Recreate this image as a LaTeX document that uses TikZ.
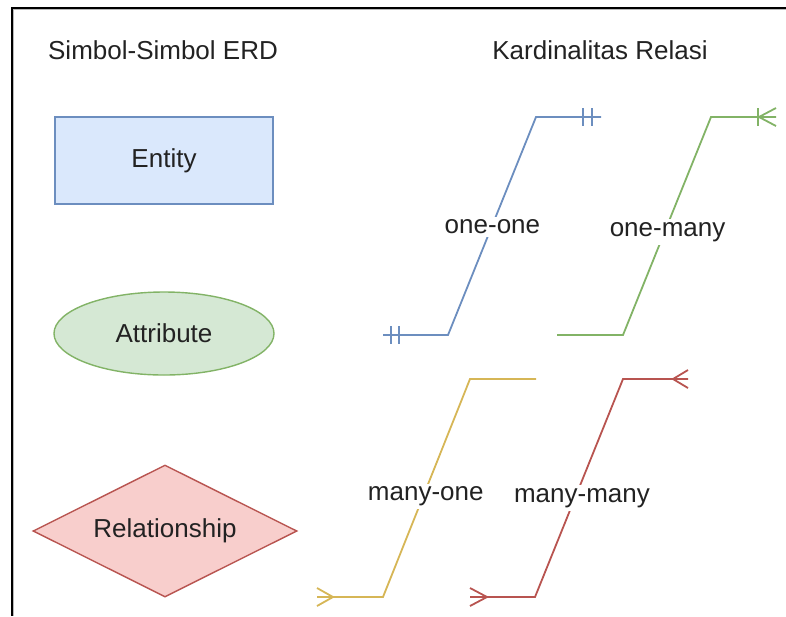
\documentclass[tikz,border=0pt]{standalone}
\usepackage{fontspec}
\setmainfont{Liberation Sans}
\usetikzlibrary{shapes.geometric}

\definecolor{erdblue}{HTML}{6C8EBF}
\definecolor{erdbluefill}{HTML}{DAE8FC}
\definecolor{erdgreen}{HTML}{82B366}
\definecolor{erdgreenfill}{HTML}{D5E8D4}
\definecolor{erdyellow}{HTML}{D6B656}
\definecolor{erdred}{HTML}{B85450}
\definecolor{erdredfill}{HTML}{F8CECC}
\definecolor{txt}{HTML}{222222}

\tikzset{
  every node/.style={font=\fontsize{13}{15}\selectfont, text=txt},
  title/.style={inner sep=0pt},
  shapebox/.style={draw, line width=0.7pt, inner sep=0pt},
  rel/.style={line width=0.9pt, line join=miter},
  lbl/.style={fill=white, inner sep=1.5pt},
}

\begin{document}
\begin{tikzpicture}[x=0.5pt, y=-0.5pt]
  \useasboundingbox (0,0) rectangle (786,616);

  % window frame (top and left edges with a soft inner shade)
  \draw[gray!55, line width=0.5pt] (786,9.9) -- (13.6,9.9) -- (13.6,616);
  \draw[black, line width=0.9pt] (786,8) -- (11.7,8) -- (11.7,616);

  % column headings
  \node[title] (hsym) at (163,50) {Simbol-Simbol ERD};
  \node[title] (hcard) at (600,50) {Kardinalitas Relasi};

  % ERD symbols
  \node[shapebox, rectangle, draw=erdblue, fill=erdbluefill,
        minimum width=109pt, minimum height=43.5pt] (entity) at (164,160.5) {Entity};
  \node[shapebox, ellipse, draw=erdgreen, fill=erdgreenfill,
        minimum width=110pt, minimum height=41.5pt] (attribute) at (164,333.5) {Attribute};
  \node[shapebox, diamond, draw=erdred, fill=erdredfill, shape aspect=2,
        minimum width=132pt, minimum height=66pt] (relationship) at (165,531) {Relationship};

  % one-one
  \coordinate (ooA) at (383,335);
  \coordinate (ooB) at (448,335);
  \coordinate (ooC) at (536,117);
  \coordinate (ooD) at (601,117);
  \draw[rel, erdblue] (ooA) -- (ooB) -- node[lbl, pos=0.505, yshift=-1pt] (oolbl) {one-one} (ooC) -- (ooD);
  \draw[rel, erdblue] (391,326) -- (391,344) (399,326) -- (399,344);
  \draw[rel, erdblue] (583,108) -- (583,126) (592,108) -- (592,126);

  % one-many
  \coordinate (omA) at (557,335);
  \coordinate (omB) at (623,335);
  \coordinate (omC) at (711,117);
  \coordinate (omD) at (776,117);
  \draw[rel, erdgreen] (omA) -- (omB) -- node[lbl, pos=0.495, xshift=0.5pt, yshift=-2.5pt] (omlbl) {one-many} (omC) -- (omD);
  \draw[rel, erdgreen] (758,108) -- (758,126);
  \draw[rel, erdgreen] (776,108) -- (759,117) -- (776,126);

  % many-one
  \coordinate (moA) at (317,597);
  \coordinate (moB) at (383,597);
  \coordinate (moC) at (470,379);
  \coordinate (moD) at (536,379);
  \draw[rel, erdyellow] (moA) -- (moB) -- node[lbl, pos=0.48, xshift=0.5pt, yshift=-2pt] (molbl) {many-one} (moC) -- (moD);
  \draw[rel, erdyellow] (317,588) -- (333,597) -- (317,606);

  % many-many
  \coordinate (mmA) at (470,597);
  \coordinate (mmB) at (535,597);
  \coordinate (mmC) at (623,379);
  \coordinate (mmD) at (688,379);
  \draw[rel, erdred] (mmA) -- (mmB) -- node[lbl, pos=0.477, xshift=2.5pt, yshift=-2.5pt] (mmlbl) {many-many} (mmC) -- (mmD);
  \draw[rel, erdred] (470,588) -- (487,597) -- (470,606);
  \draw[rel, erdred] (688,370) -- (673,379) -- (688,388);
\end{tikzpicture}
\end{document}
